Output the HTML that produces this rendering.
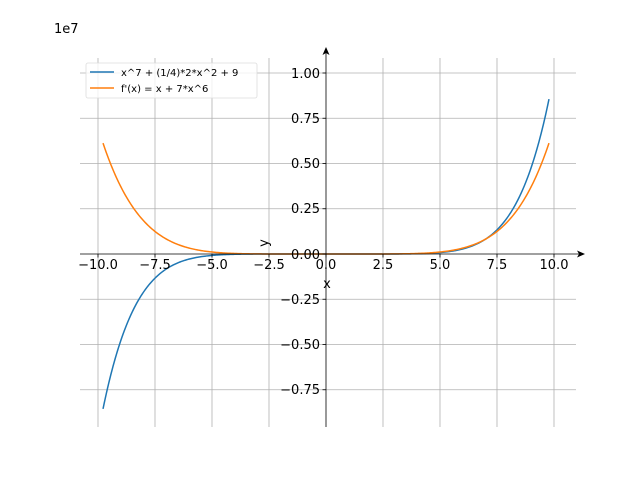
<!DOCTYPE html>
<html><head><meta charset="utf-8"><style>
html,body{margin:0;padding:0;background:#fff;}
svg{display:block;font-family:"DejaVu Sans","Liberation Sans",sans-serif;}
</style></head><body>
<svg id="s" width="640" height="480" viewBox="0 0 640 480" xmlns="http://www.w3.org/2000/svg">
<rect width="640" height="480" fill="#fff"/>
<g stroke="#b0b0b0" stroke-width="0.8">
<line x1="98" y1="58" x2="98" y2="427"/><line x1="155" y1="58" x2="155" y2="427"/>
<line x1="212" y1="58" x2="212" y2="427"/><line x1="269" y1="58" x2="269" y2="427"/>
<line x1="383" y1="58" x2="383" y2="427"/><line x1="440" y1="58" x2="440" y2="427"/>
<line x1="497" y1="58" x2="497" y2="427"/><line x1="554" y1="58" x2="554" y2="427"/>
<line x1="80" y1="73" x2="576" y2="73"/><line x1="80" y1="118.25" x2="576" y2="118.25"/>
<line x1="80" y1="163.5" x2="576" y2="163.5"/><line x1="80" y1="208.75" x2="576" y2="208.75"/>
<line x1="80" y1="299.25" x2="576" y2="299.25"/><line x1="80" y1="344.5" x2="576" y2="344.5"/>
<line x1="80" y1="389.75" x2="576" y2="389.75"/>
</g>
<path id="p1" fill="none" stroke="#1f77b4" stroke-width="1.5"/>
<path id="p2" fill="none" stroke="#ff7f0e" stroke-width="1.5"/>
<g stroke="#000" stroke-width="0.8">
<line x1="80" y1="254" x2="580" y2="254"/>
<line x1="326" y1="427" x2="326" y2="52"/>
</g>
<path d="M585,254 L577,250.5 L579,254 L577,257.5 Z" fill="#000"/>
<path d="M326,47 L322.5,55 L326,53 L329.5,55 Z" fill="#000"/>
<g stroke="#000" stroke-width="0.8">
<line x1="98" y1="254" x2="98" y2="257.5"/><line x1="155" y1="254" x2="155" y2="257.5"/>
<line x1="212" y1="254" x2="212" y2="257.5"/><line x1="269" y1="254" x2="269" y2="257.5"/>
<line x1="326" y1="254" x2="326" y2="257.5"/><line x1="383" y1="254" x2="383" y2="257.5"/>
<line x1="440" y1="254" x2="440" y2="257.5"/><line x1="497" y1="254" x2="497" y2="257.5"/>
<line x1="554" y1="254" x2="554" y2="257.5"/>
<line x1="322.5" y1="73" x2="326" y2="73"/><line x1="322.5" y1="118.25" x2="326" y2="118.25"/>
<line x1="322.5" y1="163.5" x2="326" y2="163.5"/><line x1="322.5" y1="208.75" x2="326" y2="208.75"/>
<line x1="322.5" y1="254" x2="326" y2="254"/><line x1="322.5" y1="299.25" x2="326" y2="299.25"/>
<line x1="322.5" y1="344.5" x2="326" y2="344.5"/><line x1="322.5" y1="389.75" x2="326" y2="389.75"/>
</g>
<g font-size="13" fill="#000" text-anchor="middle">
<text x="98" y="269">−10.0</text><text x="155" y="269">−7.5</text>
<text x="212" y="269">−5.0</text><text x="269" y="269">−2.5</text>
<text x="326" y="269">0.0</text><text x="383" y="269">2.5</text>
<text x="440" y="269">5.0</text><text x="497" y="269">7.5</text>
<text x="554" y="269">10.0</text>
</g>
<g font-size="13" fill="#000" text-anchor="end">
<text x="320" y="78">1.00</text><text x="320" y="123">0.75</text>
<text x="320" y="168">0.50</text><text x="320" y="213">0.25</text>
<text x="320" y="259">0.00</text><text x="320" y="304">−0.25</text>
<text x="320" y="349">−0.50</text><text x="320" y="394">−0.75</text>
</g>
<text x="54" y="33" font-size="13">1e7</text>
<text x="327" y="288" font-size="13" text-anchor="middle">x</text>
<text x="268" y="243" font-size="13" text-anchor="middle" transform="rotate(-90 268 243)">y</text>
<rect x="86" y="63" width="171" height="35" rx="2" fill="#fff" fill-opacity="0.8" stroke="#ddd" stroke-width="0.8"/>
<line x1="90" y1="72" x2="114" y2="72" stroke="#1f77b4" stroke-width="1.5"/>
<line x1="90" y1="88" x2="114" y2="88" stroke="#ff7f0e" stroke-width="1.5"/>
<text x="121" y="76" font-size="10">x^7 + (1/4)*2*x^2 + 9</text>
<text x="121" y="92" font-size="10">f'(x) = x + 7*x^6</text>
<script>
(function(){
var a="",b="";
for(var i=0;i<=400;i++){
var x=-9.78+19.56*i/400;
var f=Math.pow(x,7)+0.5*x*x+9, g=x+7*Math.pow(x,6);
var px=(326+x*22.8).toFixed(2);
a+=(i?"L":"M")+px+","+(254-f/1e7*181).toFixed(2);
b+=(i?"L":"M")+px+","+(254-g/1e7*181).toFixed(2);
}
document.getElementById("p1").setAttribute("d",a);
document.getElementById("p2").setAttribute("d",b);
})();
</script>
</svg>
</body></html>
